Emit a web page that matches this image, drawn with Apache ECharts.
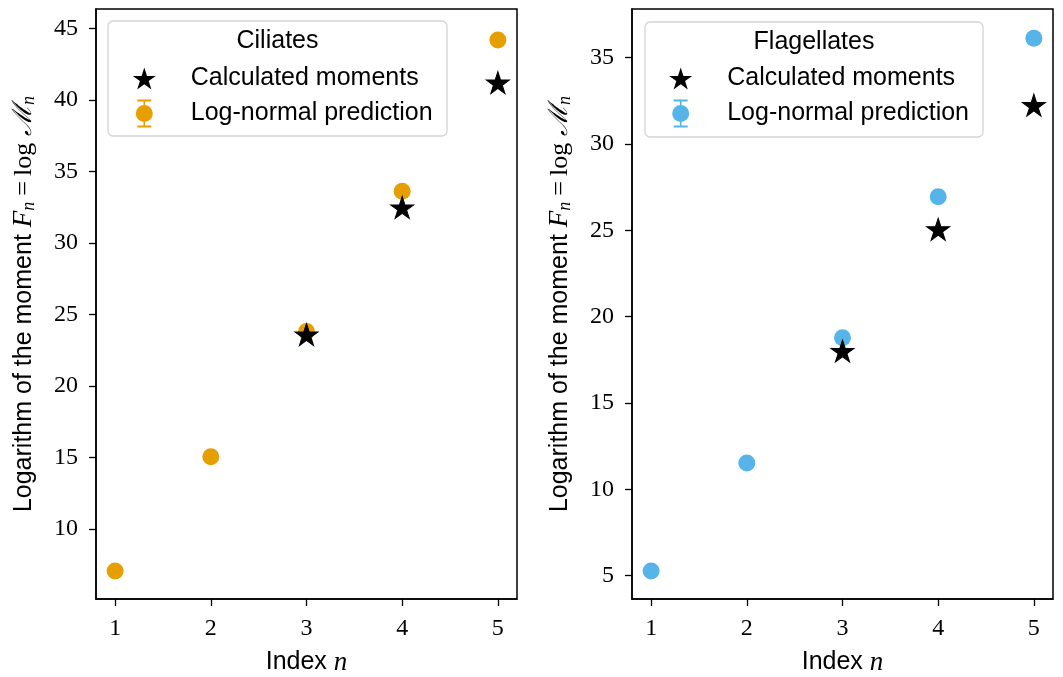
<!DOCTYPE html>
<html>
<head>
<meta charset="utf-8">
<script src="https://cdn.jsdelivr.net/npm/echarts@6/dist/echarts.min.js"></script>
<style>
  html, body { margin: 0; padding: 0; background: #fff; }
  #charts { width: 1063px; height: 677px; }
</style>
</head>
<body>
<div id="charts"></div>
<script>
// values
const indexAll = [1, 2, 3, 4, 5]
const indexCalc = [3, 4, 5]
const ciliatesPrediction = [7.06, 15.04, 23.8, 33.62, 44.2]
const ciliatesCalculated = [23.59, 32.48, 41.21]
const flagellatesPrediction = [5.27, 11.52, 18.78, 26.94, 36.13]
const flagellatesCalculated = [18.01, 25.06, 32.25]
const ciliatesTicks = [10, 15, 20, 25, 30, 35, 40, 45]
const flagellatesTicks = [5, 10, 15, 20, 25, 30, 35]

const ORANGE = '#E69F00'
const BLUE = '#56B4E9'
const SANS = 'Liberation Sans, Helvetica, Arial, sans-serif'
const SERIF = 'Liberation Serif, DejaVu Serif, serif'
const FS = 25

// matplotlib-like '*' marker
const starPath = (() => {
    let pts = []
    for (let i = 0; i < 10; i++) {
        const r = i % 2 ? 0.382 : 1
        const a = (-90 + 36 * i) * Math.PI / 180
        pts.push((r * Math.cos(a)).toFixed(4) + ',' + (r * Math.sin(a)).toFixed(4))
    }
    return 'path://M' + pts.join('L') + 'Z'
})()
// errorbar legend handle: caps + stem + dot
const errPath = 'path://M1.5,0H15.5V2H1.5Z M7.7,0H9.3V28H7.7Z M1.5,26H15.5V28H1.5Z M0,14A8.5,8.5 0 1 1 17,14A8.5,8.5 0 1 1 0,14Z'

const pairs = (xs, ys) => xs.map((x, i) => [x, ys[i]])

const mathRich = {
    m: { fontFamily: SERIF, fontStyle: 'italic', fontSize: 27, color: '#000' },
    r: { fontFamily: SERIF, fontSize: 26, color: '#000' },
    eq: { fontFamily: SERIF, fontSize: 26, color: '#000', padding: [0, 5, 0, 6] },
    sub: { fontFamily: SERIF, fontStyle: 'italic', fontSize: 18, color: '#000', padding: [10, 0, 0, 0] }
}

const yName = 'Logarithm of the moment {m|F}{sub|n}{eq|=}{r|log} {m|ℳ}{sub|n}'

function xAxisFor(gridIndex) {
    return {
        type: 'value', gridIndex, min: 0.8, max: 5.2,
        name: 'Index {m|n}', nameLocation: 'middle', nameGap: 50,
        nameTextStyle: { fontFamily: SANS, fontSize: FS, color: '#000', rich: mathRich },
        axisLine: { show: true, onZero: false, lineStyle: { color: '#000', width: 1.5 } },
        axisTick: { show: true, length: 7, customValues: indexAll, lineStyle: { color: '#000', width: 1.3 } },
        axisLabel: { customValues: indexAll, margin: 18, fontFamily: SERIF, fontSize: 24, color: '#000' },
        splitLine: { show: false }
    }
}

function yAxisFor(gridIndex, min, max, ticks) {
    return {
        type: 'value', gridIndex, min, max,
        name: yName, nameLocation: 'middle', nameGap: 58,
        nameTextStyle: { fontFamily: SANS, fontSize: FS, color: '#000', rich: mathRich },
        axisLine: { show: true, onZero: false, lineStyle: { color: '#000', width: 1.5 } },
        axisTick: { show: true, length: 7, customValues: ticks, lineStyle: { color: '#000', width: 1.3 } },
        axisLabel: { customValues: ticks, margin: 18, fontFamily: SERIF, fontSize: 24, color: '#000' },
        splitLine: { show: false }
    }
}

function legendsFor(left, color) {
    // left = x of the marker column centre
    return [
        {
            data: [{ name: 'Calculated moments', icon: starPath,
                     itemStyle: { color: '#000', borderWidth: 0 } }],
            left: left - 11.5, top: 66, itemWidth: 23, itemHeight: 22, padding: 0,
            selectedMode: false,
            textStyle: { fontFamily: SANS, fontSize: FS, color: '#000', padding: [0, 0, 0, 30] }
        },
        {
            data: [{ name: 'Log-normal prediction', icon: errPath,
                     itemStyle: { color, borderWidth: 0 } }],
            left: left - 8.5, top: 99.5, itemWidth: 17, itemHeight: 28, padding: 0,
            selectedMode: false,
            textStyle: { fontFamily: SANS, fontSize: FS, color: '#000', padding: [2, 0, 0, 33] }
        }
    ]
}

function legendBox(x, y, w, h, title) {
    return [
        {
            type: 'rect', z: 1, shape: { x, y, width: w, height: h, r: 5 },
            style: { fill: 'rgba(255,255,255,0.8)', stroke: '#d4d4d4', lineWidth: 1.3 }
        },
        {
            type: 'text', z: 2, x: x + w / 2, y: y + 20,
            style: { text: title, fontFamily: SANS, fontSize: FS, fill: '#000', align: 'center', verticalAlign: 'middle' }
        }
    ]
}

let myChart = echarts.init(document.getElementById('charts'))
let option = {
    animation: false,
    backgroundColor: '#fff',
    grid: [
        { left: 96, top: 9, width: 421, height: 590, containLabel: false, outerBoundsMode: 'none',
          show: true, borderColor: '#000', borderWidth: 1.5 },
        { left: 632, top: 9, width: 421, height: 590, containLabel: false, outerBoundsMode: 'none',
          show: true, borderColor: '#000', borderWidth: 1.5 }
    ],
    xAxis: [xAxisFor(0), xAxisFor(1)],
    yAxis: [
        yAxisFor(0, 5.1, 46.36, ciliatesTicks),
        yAxisFor(1, 3.65, 37.82, flagellatesTicks)
    ],
    legend: [...legendsFor(144.3, ORANGE), ...legendsFor(680.7, BLUE)],
    graphic: [...legendBox(108, 21, 339, 115, 'Ciliates'), ...legendBox(645, 22, 338, 115, 'Flagellates')],
    series: [
        {
            name: 'Log-normal prediction', type: 'scatter', xAxisIndex: 0, yAxisIndex: 0,
            symbol: 'circle', symbolSize: 17, itemStyle: { color: ORANGE, opacity: 1 },
            data: pairs(indexAll, ciliatesPrediction)
        },
        {
            name: 'Calculated moments', type: 'scatter', xAxisIndex: 0, yAxisIndex: 0,
            symbol: starPath, symbolSize: [23, 22],
            itemStyle: { color: '#000', borderColor: '#000', borderWidth: 1, opacity: 1 },
            data: pairs(indexCalc, ciliatesCalculated)
        },
        {
            name: 'Log-normal prediction', type: 'scatter', xAxisIndex: 1, yAxisIndex: 1,
            symbol: 'circle', symbolSize: 17, itemStyle: { color: BLUE, opacity: 1 },
            data: pairs(indexAll, flagellatesPrediction)
        },
        {
            name: 'Calculated moments', type: 'scatter', xAxisIndex: 1, yAxisIndex: 1,
            symbol: starPath, symbolSize: [23, 22],
            itemStyle: { color: '#000', borderColor: '#000', borderWidth: 1, opacity: 1 },
            data: pairs(indexCalc, flagellatesCalculated)
        }
    ]
}
myChart.setOption(option)
</script>
</body>
</html>
